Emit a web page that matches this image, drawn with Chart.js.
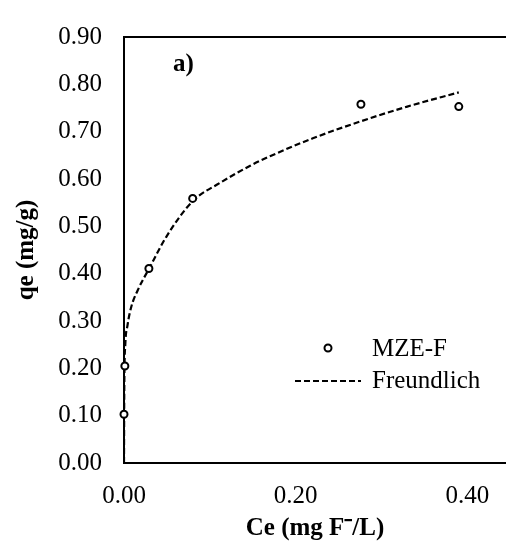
<!DOCTYPE html>
<html>
<head>
<meta charset="utf-8">
<script src="https://cdn.jsdelivr.net/npm/chart.js@4.4.0/dist/chart.umd.min.js"></script>
<style>
  html, body { margin: 0; padding: 0; background: #fff; overflow: hidden; }
</style>
</head>
<body>
<canvas id="isoterma" width="506" height="544"></canvas>
<script>
// data MZE-F (Ce, qe)
var ceData = [0.000, 0.001, 0.029, 0.080, 0.276, 0.390];
var qeData = [0.103, 0.205, 0.411, 0.559, 0.758, 0.753];
// kurva Freundlich
var ceFit = [0, 0.0003, 0.0015, 0.004, 0.0085, 0.016, 0.029, 0.05, 0.08, 0.112, 0.147, 0.17, 0.22, 0.276, 0.33, 0.39];
var qeFit = [0, 0.15, 0.25, 0.29, 0.33, 0.365, 0.41, 0.48, 0.553, 0.592, 0.628, 0.648, 0.686, 0.722, 0.753, 0.783];
var xTicks = [0, 0.2, 0.4];
var yTicks = [0, 0.1, 0.2, 0.3, 0.4, 0.5, 0.6, 0.7, 0.8, 0.9];
var seriesNames = ['MZE-F', 'Freundlich'];

var serif = '"Liberation Serif", "Times New Roman", serif';

function toPoints(xs, ys) {
    var pts = [];
    for (var i = 0; i < xs.length; i++) {
        pts.push({x: xs[i], y: ys[i]});
    }
    return pts;
}

// garis atas, label a) dan legenda di dalam plot
var extras = {
    id: 'extras',
    afterDraw: function(chart) {
        var ctx = chart.ctx;
        var area = chart.chartArea;
        ctx.save();
        ctx.strokeStyle = '#000';
        ctx.lineWidth = 2;
        ctx.beginPath();
        ctx.moveTo(area.left - 1, area.top);
        ctx.lineTo(area.right, area.top);
        ctx.stroke();

        ctx.fillStyle = '#000';
        ctx.font = 'bold 25px ' + serif;
        ctx.textBaseline = 'middle';
        ctx.textAlign = 'left';
        ctx.fillText('a)', 173, 65);

        // legenda
        ctx.lineWidth = 2;
        ctx.beginPath();
        ctx.arc(328, 348, 3.5, 0, Math.PI * 2);
        ctx.stroke();
        ctx.setLineDash([6, 3]);
        ctx.lineWidth = 2.2;
        ctx.beginPath();
        ctx.moveTo(295, 381);
        ctx.lineTo(361, 381);
        ctx.stroke();
        ctx.setLineDash([]);
        ctx.font = '25px ' + serif;
        ctx.fillText(seriesNames[0], 372, 349);
        ctx.fillText(seriesNames[1], 372, 381);
        ctx.restore();
    }
};

var chart = new Chart(document.getElementById('isoterma').getContext('2d'), {
    type: 'scatter',
    data: {
        datasets: [{
            label: seriesNames[0],
            data: toPoints(ceData, qeData),
            pointStyle: 'circle',
            pointRadius: 3.5,
            pointBorderWidth: 2,
            pointBorderColor: '#000',
            pointBackgroundColor: '#fff',
            showLine: false,
            clip: false,
            order: 0
        }, {
            label: seriesNames[1],
            data: toPoints(ceFit, qeFit),
            showLine: true,
            borderColor: '#000',
            borderWidth: 2.2,
            borderDash: [6, 3],
            pointRadius: 0,
            cubicInterpolationMode: 'monotone',
            order: 1
        }]
    },
    options: {
        responsive: false,
        animation: false,
        layout: { autoPadding: false, padding: { top: 19, right: 0, left: 0, bottom: 0 } },
        plugins: {
            legend: { display: false },
            tooltip: { enabled: false }
        },
        scales: {
            x: {
                type: 'linear',
                min: 0,
                max: 0.445,
                afterBuildTicks: function(scale) {
                    scale.ticks = xTicks.map(function(v) { return {value: v}; });
                },
                afterFit: function(scale) {
                    scale.height = 81;
                    scale.paddingRight = 0;
                },
                grid: { display: false, drawTicks: false },
                border: { display: true, color: '#000', width: 2 },
                ticks: {
                    padding: 18,
                    color: '#000',
                    font: { family: serif, size: 25 },
                    callback: function(v) { return v.toFixed(2); }
                },
                title: {
                    display: true,
                    text: 'Ce (mg F\u207B/L)',
                    color: '#000',
                    font: { family: serif, size: 25, weight: 'bold' },
                    padding: { top: 0, bottom: 0 }
                }
            },
            y: {
                min: 0,
                max: 0.9,
                afterBuildTicks: function(scale) {
                    scale.ticks = yTicks.map(function(v) { return {value: v}; });
                },
                afterFit: function(scale) { scale.width = 124; },
                grid: { display: false, drawTicks: false },
                border: { display: true, color: '#000', width: 2 },
                ticks: {
                    padding: 22,
                    color: '#000',
                    font: { family: serif, size: 25 },
                    callback: function(v) { return v.toFixed(2); }
                },
                title: {
                    display: true,
                    text: 'qe (mg/g)',
                    color: '#000',
                    font: { family: serif, size: 25, weight: 'bold' },
                    padding: { top: 12, bottom: 0 }
                }
            }
        }
    },
    plugins: [extras]
});
</script>
</body>
</html>
